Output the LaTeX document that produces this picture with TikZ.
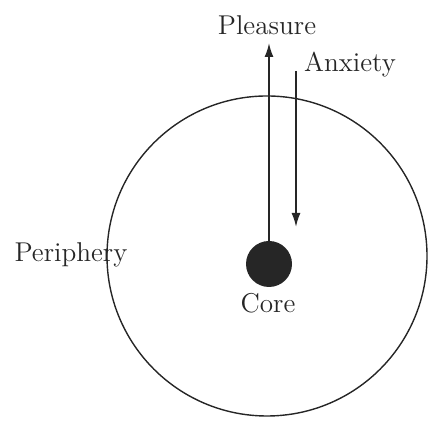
\documentclass[tikz,border=0pt]{standalone}
\usepackage{tikz}
\usetikzlibrary{arrows.meta}
\tikzset{lbl/.style={text=black!85, font=\fontsize{13.6}{16}\selectfont, inner sep=1}}
\begin{document}
\begin{tikzpicture}[x=0.5pt,y=0.5pt]
\useasboundingbox (0,0) rectangle (428,426);
\draw[black!85, line width=.7pt] (267,170) circle (160);
\node[circle, fill=black!85, minimum size=23pt, inner sep=0] (core) at (269,162) {};
\node[lbl] (corelbl) at (268,123) {Core};
\node[lbl] (pleasure) at (267,401) {Pleasure};
\node[lbl] (anxiety) at (350,361) {Anxiety};
\node[lbl] (periphery) at (71,171) {Periphery};
\coordinate (anxtop) at (296,355);
\coordinate (anxtip) at (296,199);
\draw[black!85, line width=.9pt, -{Latex[length=7pt,width=4.5pt]}] (core.north) -- (core.north |- 0,383);
\draw[black!85, line width=.9pt, -{Latex[length=7pt,width=4.5pt]}] (anxtop) -- (anxtip);
\end{tikzpicture}
\end{document}
